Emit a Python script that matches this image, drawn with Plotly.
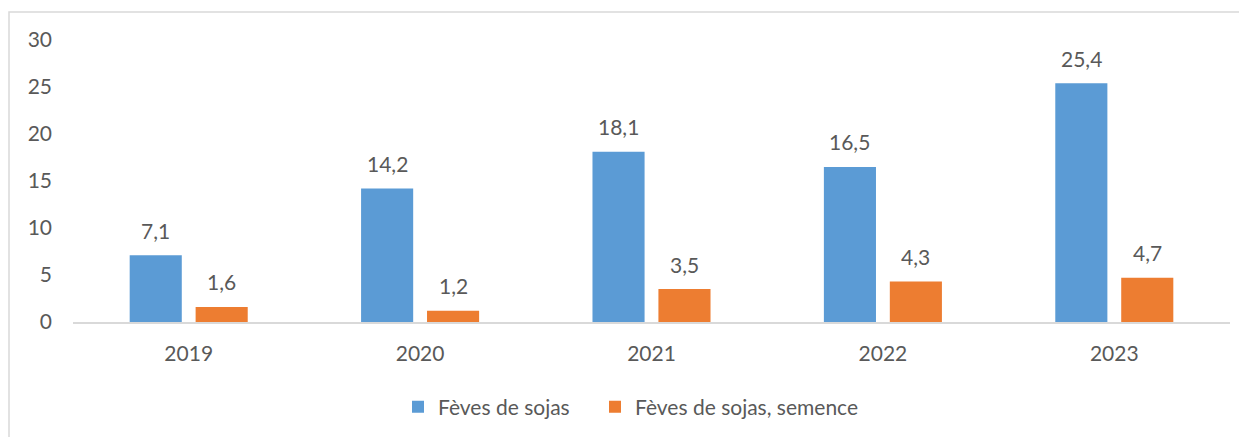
import plotly.graph_objects as go

years = ["2019", "2020", "2021", "2022", "2023"]
feves = [7.1, 14.2, 18.1, 16.5, 25.4]
semence = [1.6, 1.2, 3.5, 4.3, 4.7]
series_names = ["Fèves de sojas", "Fèves de sojas, semence"]
colors = ["#5B9BD5", "#ED7D31"]
ytick_vals = [0, 5, 10, 15, 20, 25, 30]

TXT = "#595959"
FONT = "Lato"
FS = 21

# page body has an 8px margin; figure is sized/positioned to compensate
W, H = 1239, 429
L, T, R, B = 65, 32, 17, 115
PW, PH = W - L - R, H - T - B

fig = go.Figure()
for name, vals, col, lg in zip(series_names, [feves, semence], colors, ["legend", "legend2"]):
    fig.add_trace(go.Bar(x=years, y=vals, name=name, legend=lg,
                         marker=dict(color=col, line=dict(width=0))))

def fmt(v):
    return f"{v:.1f}".replace(".", ",")

ann = []
for shift, vals in zip([-33, 33], [feves, semence]):
    for i, v in enumerate(vals):
        ann.append(dict(x=i, y=v, xref="x", yref="y", text=fmt(v), showarrow=False,
                        xshift=shift, yshift=25, yanchor="middle",
                        font=dict(family=FONT, size=FS, color=TXT)))

leg_common = dict(orientation="h", xanchor="left", y=(322 - 407) / PH, yanchor="middle",
                  font=dict(family=FONT, size=FS, color=TXT), itemwidth=30)

fig.update_layout(
    width=W, height=H,
    margin=dict(l=L, r=R, t=T, b=B, autoexpand=False),
    paper_bgcolor="white", plot_bgcolor="white",
    barmode="group", bargap=0.43, bargroupgap=0.21,
    font=dict(family=FONT, size=FS, color=TXT),
    annotations=ann,
    showlegend=True,
    legend=dict(x=(390 - L) / PW, **leg_common),
    legend2=dict(x=(587 - L) / PW, **leg_common),
    xaxis=dict(type="category", range=[-0.5, len(years) - 0.5], showgrid=False, showline=True,
               linecolor="#D9D9D9", linewidth=1.5,
               ticks="", ticklabelstandoff=12, tickfont=dict(family=FONT, size=FS, color=TXT)),
    yaxis=dict(range=[0, 30], tickvals=ytick_vals, showgrid=False, zeroline=False, showline=False,
               ticks="", ticklabelstandoff=20, tickfont=dict(family=FONT, size=FS, color=TXT)),
    shapes=[dict(type="rect", xref="paper", yref="paper",
                 x0=(1 - L) / PW, x1=(W + 20 - L) / PW,
                 y0=(H - B - (H + 20)) / PH, y1=(H - B - 4) / PH,
                 line=dict(color="#D9D9D9", width=1.5), layer="below")],
)

fig.write_html("out.html")
